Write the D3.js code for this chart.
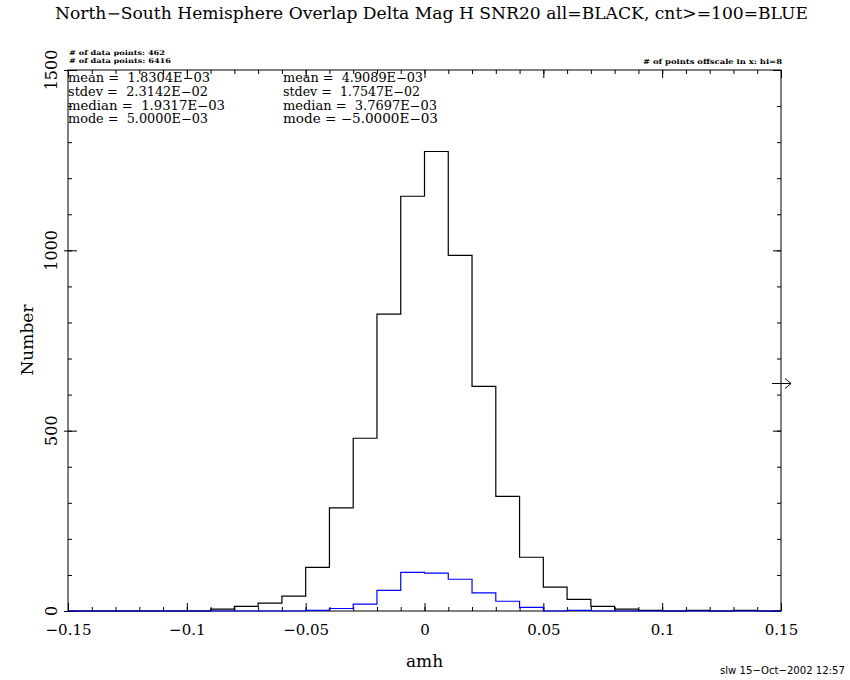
<!DOCTYPE html>
<html>
<head>
<meta charset="utf-8">
<script src="https://cdn.jsdelivr.net/npm/d3@7/dist/d3.min.js"></script>
<style>
  body { margin: 0; background: #fff; }
  svg { display: block; }
  text { font-family: "DejaVu Serif", "Liberation Serif", serif; fill: #000; }
</style>
</head>
<body>
<svg id="chart" width="850" height="680"></svg>
<script>
// ---- data ----
const binEdges = d3.range(31).map(i => +(-0.15 + i * 0.01).toFixed(2)); // 30 bins of width 0.01
const allCounts = [0,0,0,0,0,0,5,13,22,41,121,286,479,823,1150,1274,986,623,318,149,66,32,13,5,2,0,2,0,2,0];
const cntCounts = [0,0,0,0,0,0,0,0,0,0,2,7,19,57,107,105,88,50,27,10,0,2,0,0,0,0,0,0,0,0];
const xMajorTicks = [-0.15, -0.1, -0.05, 0, 0.05, 0.1, 0.15];
const xTickLabels = ["\u22120.15", "\u22120.1", "\u22120.05", "0", "0.05", "0.1", "0.15"];
const yMajorTicks = [0, 500, 1000, 1500];
const statsAll = ["mean =  1.8304E\u221203", "stdev =  2.3142E\u221202", "median =  1.9317E\u221203", "mode =  5.0000E\u221203"];
const statsCnt = ["mean =  4.9089E\u221203", "stdev =  1.7547E\u221202", "median =  3.7697E\u221203", "mode = \u22125.0000E\u221203"];
const nPointsLines = ["# of data points: 462", "# of data points: 6416"];
const offscaleText = "# of points offscale in x: hi=8";
const titleText = "North\u2212South Hemisphere Overlap Delta Mag H SNR20 all=BLACK, cnt>=100=BLUE";

// ---- layout ----
const L = 68, R = 781, T = 70, B = 611;
const svg = d3.select("#chart");
const x = d3.scaleLinear().domain([-0.15, 0.15]).range([L, R]);
const y = d3.scaleLinear().domain([0, 1500]).range([B, T]);

// frame
svg.append("rect").attr("x", L).attr("y", T).attr("width", R - L).attr("height", B - T)
  .attr("fill", "none").attr("stroke", "#000").attr("stroke-width", 1);

const minorX = d3.range(-15, 16).map(i => i / 100);
const minorY = d3.range(0, 1501, 100);

function styleAxis(g) {
  g.select(".domain").remove();
  g.selectAll("line").attr("stroke", "#000").attr("stroke-width", 1);
}
// bottom
svg.append("g").attr("transform", `translate(0,${B})`)
  .call(d3.axisBottom(x).tickValues(minorX).tickSize(-4).tickFormat(""))
  .call(styleAxis);
svg.append("g").attr("transform", `translate(0,${B})`)
  .call(d3.axisBottom(x).tickValues(xMajorTicks).tickSize(-8).tickPadding(13)
    .tickFormat((d, i) => xTickLabels[i]))
  .call(styleAxis)
  .call(g => g.selectAll("text").attr("font-size", 15).attr("font-family", "DejaVu Serif"));
// top
svg.append("g").attr("transform", `translate(0,${T})`)
  .call(d3.axisTop(x).tickValues(minorX).tickSize(-4).tickFormat(""))
  .call(styleAxis);
svg.append("g").attr("transform", `translate(0,${T})`)
  .call(d3.axisTop(x).tickValues(xMajorTicks).tickSize(-8).tickFormat(""))
  .call(styleAxis);
// left
svg.append("g").attr("transform", `translate(${L},0)`)
  .call(d3.axisLeft(y).tickValues(minorY).tickSize(-4).tickFormat(""))
  .call(styleAxis);
const yl = svg.append("g").attr("transform", `translate(${L},0)`)
  .call(d3.axisLeft(y).tickValues(yMajorTicks).tickSize(-9).tickFormat(""))
  .call(styleAxis);
yl.selectAll(".tick line").attr("x1", -4);
// right
svg.append("g").attr("transform", `translate(${R},0)`)
  .call(d3.axisRight(y).tickValues(minorY).tickSize(-4).tickFormat(""))
  .call(styleAxis);
svg.append("g").attr("transform", `translate(${R},0)`)
  .call(d3.axisRight(y).tickValues(yMajorTicks).tickSize(-8).tickFormat(""))
  .call(styleAxis);

// y tick labels, rotated
svg.append("g").selectAll("text").data(yMajorTicks).join("text")
  .attr("transform", d => `translate(57,${y(d)}) rotate(-90)`)
  .attr("text-anchor", "middle").attr("font-size", 16)
  .text(d => d);

// histograms
function stepPoints(counts) {
  const pts = counts.map((c, i) => [binEdges[i], c]);
  pts.push([binEdges[binEdges.length - 1], counts[counts.length - 1]]);
  return pts;
}
const line = d3.line().x(d => x(d[0])).y(d => y(d[1])).curve(d3.curveStepAfter);
svg.append("path").attr("d", line(stepPoints(allCounts)))
  .attr("fill", "none").attr("stroke", "#000").attr("stroke-width", 1.2);
svg.append("path").attr("d", line(stepPoints(cntCounts)))
  .attr("fill", "none").attr("stroke", "#0000ff").attr("stroke-width", 1.2);

// offscale arrow on right
const ay = 383.5;
svg.append("path")
  .attr("d", `M772,${ay} L791,${ay} M785,${ay - 5} L791,${ay} L785,${ay + 5}`)
  .attr("fill", "none").attr("stroke", "#000").attr("stroke-width", 1);

// title
svg.append("text").attr("x", 55).attr("y", 19).attr("font-size", 16)
  .attr("textLength", 753).attr("lengthAdjust", "spacingAndGlyphs").text(titleText);

// small annotations
svg.append("g").selectAll("text").data(nPointsLines).join("text")
  .attr("x", 69).attr("y", (d, i) => 55 + i * 7.5)
  .attr("font-size", 6.5).attr("font-weight", "bold")
  .attr("textLength", (d, i) => i === 0 ? 96 : 102).attr("lengthAdjust", "spacingAndGlyphs")
  .text(d => d);
svg.append("text").attr("x", 782).attr("y", 64).attr("text-anchor", "end")
  .attr("font-size", 7).attr("font-weight", "bold")
  .text(offscaleText)
  .attr("textLength", 139).attr("lengthAdjust", "spacingAndGlyphs");

// stats
const statW1 = [142, 140, 157, 140];
const statW2 = [140, 137, 154, 155];
svg.append("g").selectAll("text").data(statsAll).join("text")
  .attr("x", 68).attr("y", (d, i) => 82 + i * 13.8).attr("font-size", 12)
  .style("white-space", "pre").attr("xml:space", "preserve")
  .attr("textLength", (d, i) => statW1[i]).attr("lengthAdjust", "spacingAndGlyphs")
  .text(d => d);
svg.append("g").selectAll("text").data(statsCnt).join("text")
  .attr("x", 283).attr("y", (d, i) => 82 + i * 13.8).attr("font-size", 12)
  .style("white-space", "pre").attr("xml:space", "preserve")
  .attr("textLength", (d, i) => statW2[i]).attr("lengthAdjust", "spacingAndGlyphs")
  .text(d => d);

// axis titles
svg.append("text").attr("x", (L + R) / 2).attr("y", 667).attr("text-anchor", "middle")
  .attr("font-size", 17).text("amh");
svg.append("text").attr("transform", "translate(33,340) rotate(-90)").attr("text-anchor", "middle")
  .attr("font-size", 17).text("Number");

// footer
svg.append("text").attr("x", 845).attr("y", 674).attr("text-anchor", "end")
  .style("font-family", "DejaVu Sans")
  .attr("font-size", 10.5).attr("textLength", 125).attr("lengthAdjust", "spacingAndGlyphs")
  .text("slw 15\u2212Oct\u22122002 12:57");
</script>
</body>
</html>
